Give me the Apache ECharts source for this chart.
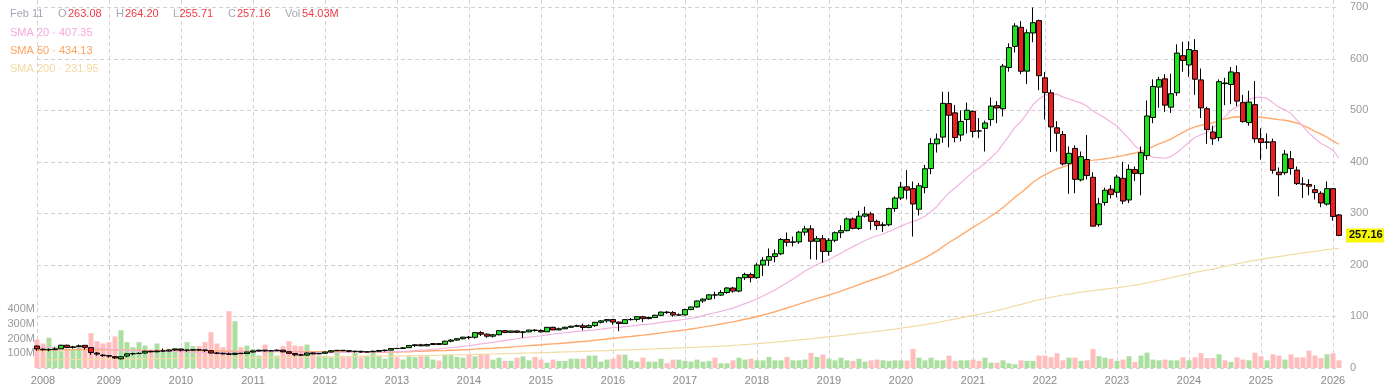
<!DOCTYPE html>
<html><head><meta charset="utf-8">
<script src="https://cdn.jsdelivr.net/npm/echarts@6/dist/echarts.min.js"></script>
<style>html,body{margin:0;padding:0;background:#fff}#c{width:1384px;height:392px}</style>
</head><body><div id="c"></div>
<script>
const startYear = 2008;
const monthCount = 218;
const months = [];
for (let i = 0; i < monthCount; i++) {
  const y = startYear + Math.floor(i / 12), m = (i % 12) + 1;
  months.push(y + '-' + (m < 10 ? '0' + m : m));
}
const opens = [
42.6,36.5,35.5,35.8,37.3,44.2,40,41.5,44,39.5,29,25,
24,22,17.8,23.2,27.5,28,29,32.5,31.5,33,33,35,
36.8,34.5,34.7,35.4,35,33.5,29,28.5,27.5,26.5,28.5,28,
31,33,34.5,33.2,33.5,34.6,31.5,28,25.5,25,29.2,27.5,
28.5,31,33.5,34.3,33.6,32.4,32.4,31,31.5,32.5,34,34.6,
38,37.9,39.5,43.5,45,43,45.6,47.3,46,52,54.2,56.8,
59.9,59.5,68.6,65.7,61.7,64.5,72.4,69.1,71.9,69.2,70.1,73.6,
72.7,70.3,79,74,76.1,79.1,81,82,78.6,82.2,88.7,91.5,
93.9,89.1,86.2,93.8,94.2,99.5,95.8,97.9,102.3,108.5,107.5,102.8,
103,113.4,118.3,130.1,133.7,141.9,141.4,146.5,155.2,149.2,175.2,181.5,
175.2,199.8,209.1,216.1,221.6,249.3,243.8,244.7,263.6,270,245.8,250.9,
226.2,247.8,262.5,266.5,289.3,270.9,294.7,298.9,284.5,276.3,277.9,309.5,
329.8,351.6,348,308,350,387,435,448,513,495,452,482,
498,460,465,482,509,503,583,624,661,576,650,674,
563,534,466,453,397,426,365,404.5,370,278,321,347,
341,368,326,385,377,412,486,545,561,506,534,606,
588,616,559,503,458,447,553,550,573,515,476,511,
445,438,439,380,379,406,384,357,356,346,339,318,
348,297];
const highs = [
43.5,38,38,40,45,45,43,45.5,44.5,40.5,31,27,
25.5,23,23,28,29.5,30,33.5,33.5,34,38,36,37.5,
37.5,35.5,36,37,35.5,34.5,31,30,30,29.5,29.5,31.5,
34,35.5,35,35,36,35,32,28.5,27.5,30,30,29,
31.5,34.5,35,35,34,33,33.5,32.5,33.5,35,35.5,38,
39,40,44,46,47,47,48.5,48,53,56,57.5,60.5,
62,69.5,71.5,67,65.5,73,73.5,72.5,73,71,74,75,
75,79.5,80,78.5,80,82,84,86,84.5,89,93,95,
94,90,94.5,97,100,101,99.5,103.5,109.5,110.5,110.5,106,
115,119,131,135,143,148,151,157,157.5,177,185,185,
204,215,232,230,252,263,255,266,276,277,256,258,
252,265,277,292,292,305,313,303,288,283,311,333,
361,384,362,359,394,446,455,536,536,510,500,515,
500,485,480,525,518,590,630,669,673,657,699.5,676,
574,540,479,460,430,432,420,452,380,330,350,355,
375,400,395,391,430,519,560,565,570,571,628,633,
634,638,581,507,470,560,563,584,587,530,538,557,
465,455,445,389,423,421,391,370,366,355,343,362,
349,299];
const lows = [
33.5,33.5,32.5,34.8,37,38.5,37.5,40.5,36,25.5,24,22,
20,17.5,16.5,21,25,27,28,30,30.5,32,32,33,
32,31.5,33.5,33,31,28.5,27,26,25,25.5,27,27.5,
30.5,32,32,32.5,33,30.5,27.5,23,23.5,24,26.5,26.5,
28,30.5,33,32.5,30.5,30,29.5,30,31,31.5,32,34,
37,37.5,39,41,42.5,42.5,44.5,44.5,45,50,53,55.5,
55.5,57,62,58.5,59,63.5,68.5,68,68.5,58.5,69.5,70.5,
69,70,73.5,73,75.5,78,79.5,73,77,80,86.5,88,
84,71.5,85.5,92,90.5,89,94.5,97,101,105,99.5,101,
102,112,117,126.5,132,134,140,144,146,147,171,166,
173,178.5,198,205,219,236,236,241,257,211,210,204.5,
218,244,252,265,269,268,292,268,268,264,275,303,
326,327,255,296,339,376,418,437,428,438,440,455,
447,446,420,470,475,488,575,612,570,551,632,539,
482,419,420,393,338,339,362,366,275,274,315,329,
331,318,320,363,335,404,475,505,497,495,528,575,
565,530,485,435,433,440,510,512,508,476,470,437,
404,425,377,333,375,375,355,330,335,327,312,315,
286,255.71];
const closes = [
37,35.5,35.6,37,44.2,40,41,43,40.2,30,27,24,
23,19.5,21.9,27.5,28,28.5,32.5,31.5,33,33,35,36.8,
34.5,34.7,35.4,35,34,29,28.5,27.5,26.5,28.5,28,31,
33,34.5,33.2,33.5,34.6,31.5,28.5,25.5,25,29,27.5,28.3,
31,33.5,34.3,33.6,32.4,32.4,31,31.5,32.5,34,34.6,37.7,
37.9,39.1,43.5,45,43,45.6,47.3,45.8,52,54.2,56.8,59.9,
59.2,68.6,65.7,61.7,64.5,72.4,69.1,71.9,69.2,70.1,73.6,72.7,
70.1,79,73.9,76.1,79.1,81,82,78.6,82.2,88.7,91.5,93.9,
89.1,86.2,93.8,94.2,99.5,95.8,97.9,102.3,108.5,107.5,102.8,103,
113.4,118.3,130.1,133.7,141.9,141.4,146.5,155.2,149.2,175.2,181.5,175.2,
199.8,209.1,216.1,221.6,249.3,243.8,244.7,263.6,270,245.8,250.9,226.2,
247.8,262.5,266.5,289.3,270.9,294.7,298.9,284.5,276.3,277.9,309.5,329.8,
351.1,345.1,318.2,353.6,386.6,435.3,444.3,513.4,490.4,447.1,478.5,500.1,
458.8,459.7,475.4,508.3,504.6,585.6,621.6,663.7,575.7,650.4,669.9,567.1,
534.3,467.7,455.6,395.95,416.5,366.1,410.1,373.4,275.2,318.5,344.9,336.5,
370.3,323.9,385.4,377.6,417.8,489,546.2,559.3,509.9,532.1,611,596.6,
617.8,560.3,504.6,462.8,444.8,555.5,551.7,574.4,517.8,478.1,515.9,444.7,
437.5,438.6,383.5,375,415,387,357.7,356.7,352.8,340.3,320.2,348,
294,257.16];
const volumesM = [
193,166,205,144,114,130,129,136,150,236,182,166,
175,214,256,175,141,175,152,118,166,118,118,136,
130,175,148,148,175,243,166,141,385,317,141,152,
129,84,159,118,84,148,182,152,148,159,102,84,
84,73,102,73,73,106,73,84,102,84,63,106,
73,57,79,73,79,79,57,50,91,91,75,70,
93,79,93,93,57,70,48,48,70,79,52,75,
57,36,57,48,48,63,63,63,84,84,43,57,
63,91,91,52,43,70,43,43,63,32,57,57,
48,43,57,43,48,70,32,32,52,70,57,63,
52,52,75,52,52,75,52,52,57,102,75,91,
63,52,70,52,48,63,43,52,57,52,48,52,
52,50,129,70,52,70,52,52,84,48,52,52,
57,48,70,36,36,52,32,25,52,48,48,84,
84,73,100,52,70,70,48,52,129,80,70,63,
48,57,80,41,84,104,57,52,57,52,52,72,
52,72,100,68,68,93,52,41,72,57,52,104,
80,52,93,84,57,93,72,72,118,84,68,93,
100,52];
// moving-average values for months before a full window exists
const sma20Head = [40.5,40.3,40.0,39.8,40.0,40.0,40.2,40.5,40.3,39.5,38.6,37.6,36.6,35.5,34.7,34.2,33.6,33.1,32.8];
const sma50Head = [
34.0,34.3,34.6,34.9,35.2,35.4,35.6,35.8,36.0,35.9,35.7,35.4,
35.1,34.8,34.6,34.5,34.4,34.3,34.2,34.1,34.0,33.9,33.9,33.9,
33.8,33.7,33.6,33.5,33.4,33.2,33.0,32.8,32.6,32.4,32.3,32.2,
32.2,32.2,32.1,32.0,32.0,31.9,31.8,31.6,31.5,31.5,31.5,31.6,
31.6];
const sma200Head = [
15.5,15.6,15.8,15.9,16.0,16.2,16.3,16.5,16.6,16.7,16.8,16.9,
17.0,17.1,17.2,17.3,17.4,17.6,17.7,17.8,18.0,18.1,18.2,18.4,
18.5,18.6,18.8,18.9,19.0,19.2,19.3,19.4,19.5,19.6,19.8,19.9,
20.0,20.2,20.3,20.4,20.6,20.7,20.8,20.9,21.0,21.2,21.3,21.4,
21.6,21.7,21.9,22.0,22.2,22.3,22.5,22.6,22.8,22.9,23.1,23.2,
23.4,23.6,23.8,24.0,24.1,24.3,24.5,24.7,24.9,25.2,25.5,25.7,
26.0,26.3,26.6,26.9,27.2,27.5,27.8,28.1,28.4,28.8,29.1,29.4,
29.7,30.0,30.4,30.8,31.1,31.5,31.9,32.3,32.7,33.1,33.4,33.8,
34.2,34.6,35.0,35.4,35.8,36.2,36.6,37.0,37.5,38.0,38.5,38.9,
39.4,39.9,40.3,40.8,41.3,41.9,42.5,43.1,43.8,44.6,45.5,46.3,
47.2,48.2,49.1,50.1,51.2,52.3,53.4,54.5,55.7,56.8,58.0,59.3,
60.6,61.8,63.0,64.3,65.6,67.0,68.4,69.8,71.2,72.5,74.0,75.6,
77.3,79.0,80.6,82.2,84.0,86.0,88.1,90.4,92.8,95.0,97.3,99.7,
102.1,104.3,106.6,109.0,111.5,114.3,117.3,120.5,123.3,126.4,129.6,132.4,
134.9,137.3,139.5,141.6,143.5,145.2,147.1,148.8,150.0,151.5,153.1,154.5,
155.8,157.4,159.1,160.9,162.8,165.1,167.6,170.2,172.6,175.1,177.9,180.3,
183.1,185.6,187.9,190.0,192.0,194.6,197.1];
const infoDate = 'Feb 11';
const infoOHLC = [['O','263.08'],['H','264.20'],['L','255.71'],['C','257.16'],['Vol','54.03M']];
const smaLegend = [['SMA 20', '407.35'], ['SMA 50', '434.13'], ['SMA 200', '231.95']];

function sma(n, head) {
  return closes.map((c, i) => {
    if (i < n - 1) return head[i];
    let s = 0;
    for (let k = i - n + 1; k <= i; k++) s += closes[k];
    return +(s / n).toFixed(2);
  });
}
const sma20 = sma(20, sma20Head), sma50 = sma(50, sma50Head), sma200 = sma(200, sma200Head);
const last = closes.length - 1;

const UP = '#19e619', DOWN = '#ee1c1c';
const candleData = closes.map((c, i) => [opens[i], c, lows[i], highs[i]]);
const volData = volumesM.map((v, i) => ({
  value: v,
  itemStyle: { color: closes[i] >= opens[i] ? '#aadfa0' : '#ffbdbd' }
}));
const isYearStart = (idx) => idx % 12 === 0;
const FONT = '"Liberation Sans", Arial, sans-serif';

const chart = echarts.init(document.getElementById('c'), null, { renderer: 'canvas' });
const grayDash = { color: '#d2d2d2', type: [4, 3], width: 1 };

const info = [];
info.push({ type: 'text', x: 10, y: 14, style: { text: infoDate, fill: '#a3a6b8', font: '11px ' + FONT, verticalAlign: 'middle' } });
const infoX = [[58, 68], [116, 125], [173, 179.5], [228, 237], [285, 302]];
infoOHLC.forEach((p, k) => {
  info.push({ type: 'text', x: infoX[k][0], y: 14, style: { text: p[0], fill: '#a3a6b8', font: '11px ' + FONT, verticalAlign: 'middle' } });
  info.push({ type: 'text', x: infoX[k][1], y: 14, style: { text: p[1], fill: '#f03a46', font: '11px ' + FONT, verticalAlign: 'middle' } });
});
const smaColors = ['#f5a8de', '#ffa35c', '#f2d9a2'];
const smaY = [32.5, 51, 69];
smaLegend.forEach((s, k) => {
  info.push({ type: 'text', x: 10, y: smaY[k], style: { text: s[0] + ' · ' + s[1], fill: smaColors[k], font: '11px ' + FONT, verticalAlign: 'middle' } });
});

chart.setOption({
  animation: false,
  textStyle: { fontFamily: FONT },
  grid: [
    { left: 37, right: 45, top: 0, bottom: 24 },
    { left: 37, right: 45, top: 250, bottom: 24 }
  ],
  xAxis: [
    {
      gridIndex: 0, type: 'category', data: months, boundaryGap: false,
      axisLine: { show: false }, axisTick: { show: false },
      axisLabel: {
        interval: (i) => isYearStart(i),
        formatter: (v, i) => i === 0 ? '{first|' + v.slice(0, 4) + '}' : v.slice(0, 4),
        rich: { first: { color: '#8a8a8a', fontSize: 11, padding: [0, 0, 0, 12] } },
        color: '#8a8a8a', fontSize: 11, margin: 7
      },
      splitLine: { show: true, interval: (i) => isYearStart(i), lineStyle: grayDash }
    },
    {
      gridIndex: 1, type: 'category', data: months, boundaryGap: false, show: false
    }
  ],
  yAxis: [
    {
      gridIndex: 0, type: 'value', position: 'right', min: 0, max: 714, interval: 100,
      axisLine: { show: false }, axisTick: { show: false },
      axisLabel: { color: '#9a9a9a', fontSize: 11, margin: 11, showMaxLabel: false },
      splitLine: { show: true, showMaxLine: false, lineStyle: grayDash }
    },
    {
      gridIndex: 1, type: 'value', position: 'left', min: 0, max: 800, interval: 100,
      axisLine: { show: false }, axisTick: { show: false }, splitLine: { show: false },
      axisLabel: { color: '#9a9a9a', fontSize: 11, margin: 2, formatter: (v) => (v >= 100 && v <= 400) ? v + 'M' : '' }
    }
  ],
  series: [
    {
      type: 'bar', name: 'Volume', xAxisIndex: 1, yAxisIndex: 1, data: volData,
      barWidth: 5, clip: false, silent: true, z: 1
    },
    { type: 'line', name: 'SMA 200', data: sma200, showSymbol: false, symbol: 'none', lineStyle: { color: '#f3dba6', width: 1.2 }, z: 2, silent: true },
    { type: 'line', name: 'SMA 50', data: sma50, showSymbol: false, symbol: 'none', lineStyle: { color: '#ffab6e', width: 1.4 }, z: 2, silent: true },
    { type: 'line', name: 'SMA 20', data: sma20, showSymbol: false, symbol: 'none', lineStyle: { color: '#f2b3e2', width: 1.2 }, z: 2, silent: true },
    {
      type: 'candlestick', name: 'Price', data: candleData, barWidth: 5, clip: false, z: 3,
      itemStyle: { color: UP, color0: DOWN, borderColor: '#000', borderColor0: '#000', borderWidth: 1 }
    }
  ]
});

// last-price tag on the right axis, positioned through the price scale
const pt = chart.convertToPixel({ gridIndex: 0 }, [last, closes[last]]);
info.push({
  type: 'text', x: pt[0] + 7, y: pt[1], z: 10,
  style: {
    text: closes[last].toFixed(2), fill: '#111', font: 'bold 11px ' + FONT,
    verticalAlign: 'middle', backgroundColor: '#f8f800', padding: [2, 3, 1, 3]
  }
});
chart.setOption({ graphic: info });
</script></body></html>
